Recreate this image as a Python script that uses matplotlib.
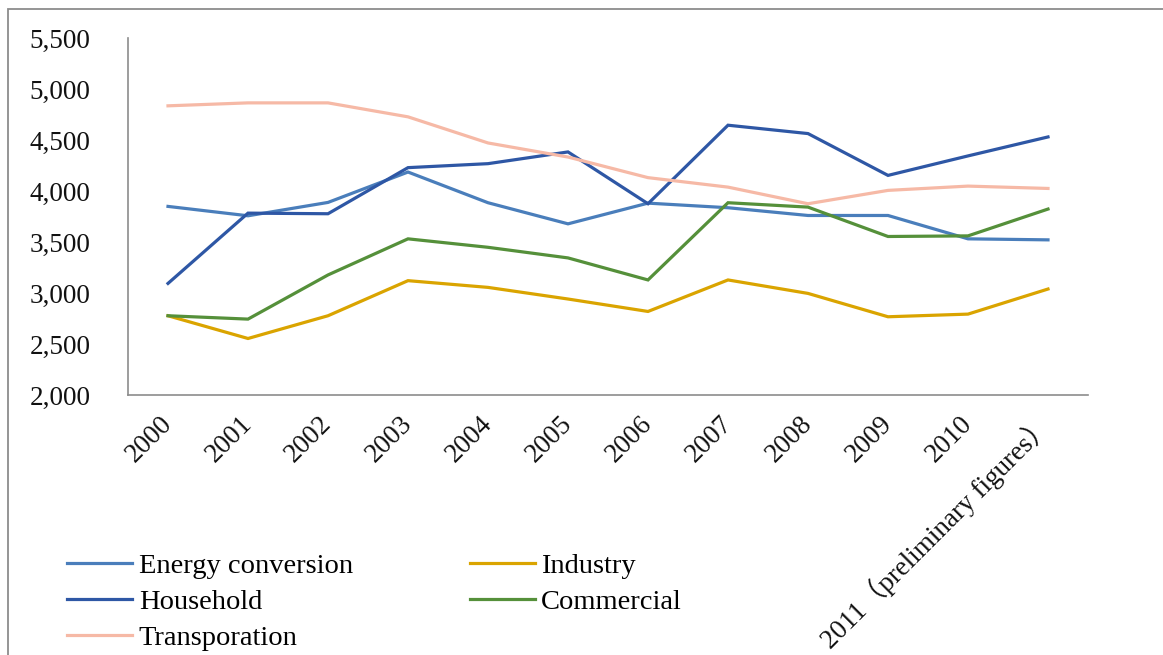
import matplotlib
matplotlib.use("Agg")
import matplotlib.pyplot as plt
from matplotlib.patches import Rectangle
from matplotlib.ticker import FuncFormatter

years = ["2000", "2001", "2002", "2003", "2004", "2005", "2006", "2007",
         "2008", "2009", "2010", "2011（preliminary figures）"]

energy_conversion = [3849, 3757, 3888, 4186, 3885, 3678, 3881, 3836, 3760, 3760, 3531, 3521]
industry = [2777, 2554, 2777, 3121, 3055, 2941, 2819, 3128, 2996, 2767, 2793, 3039]
household = [3094, 3783, 3777, 4229, 4268, 4383, 3875, 4645, 4563, 4153, 4344, 4530]
commercial = [2777, 2744, 3177, 3531, 3448, 3344, 3128, 3885, 3842, 3554, 3560, 3823]
transportation = [4835, 4864, 4864, 4727, 4471, 4333, 4131, 4038, 3875, 4006, 4048, 4025]

series = [
    ("Energy conversion", energy_conversion, "#4a7ebb"),
    ("Household", household, "#2e57a5"),
    ("Transporation", transportation, "#f6b9a6"),
    ("Industry", industry, "#daa400"),
    ("Commercial", commercial, "#55903a"),
]

W, H = 1163, 655
plt.rcParams["font.family"] = ["Liberation Serif", "Noto Sans CJK SC"]

fig = plt.figure(figsize=(W / 100, H / 100), dpi=100)
ax = fig.add_axes([128 / W, 1 - 395 / H, (1088 - 128) / W, (395 - 38) / H])

x = list(range(len(years)))
for name, vals, color in series:
    ax.plot(x, vals, color=color, linewidth=2.3, label=name,
            solid_joinstyle="miter")

ax.set_xlim(-0.5, len(years) - 0.5)
ax.set_ylim(2000, 5500)
ax.set_yticks(range(2000, 5501, 500))
ax.yaxis.set_major_formatter(FuncFormatter(lambda v, p: f"{int(v):,}"))
ax.set_xticks(x)
ax.set_xticklabels(years, rotation=45, ha="right", va="center",
                   rotation_mode="anchor", fontsize=19.5)

ax.tick_params(axis="both", length=0, colors="#111111")
ax.tick_params(axis="y", pad=27, labelsize=19.5)
ax.tick_params(axis="x", pad=18)

for side in ("top", "right"):
    ax.spines[side].set_visible(False)
for side in ("left", "bottom"):
    ax.spines[side].set_color("#8c8c8c")
    ax.spines[side].set_linewidth(1.2)

handles, labels = ax.get_legend_handles_labels()
fig.legend(handles, labels, ncol=2, frameon=False,
           loc="upper left", bbox_to_anchor=(67 / W, 1 - 553 / H),
           fontsize=20.5, handlelength=2.3, handletextpad=0.22,
           columnspacing=4.1, labelspacing=0.36, borderpad=0,
           borderaxespad=0)

# outer chart frame
fig.add_artist(Rectangle((8 / W, -0.1), 1.2, 1 - 9 / H + 0.1,
                         transform=fig.transFigure, fill=False,
                         edgecolor="#8c8c8c", linewidth=1.3))

fig.savefig("out.png", dpi=100)
